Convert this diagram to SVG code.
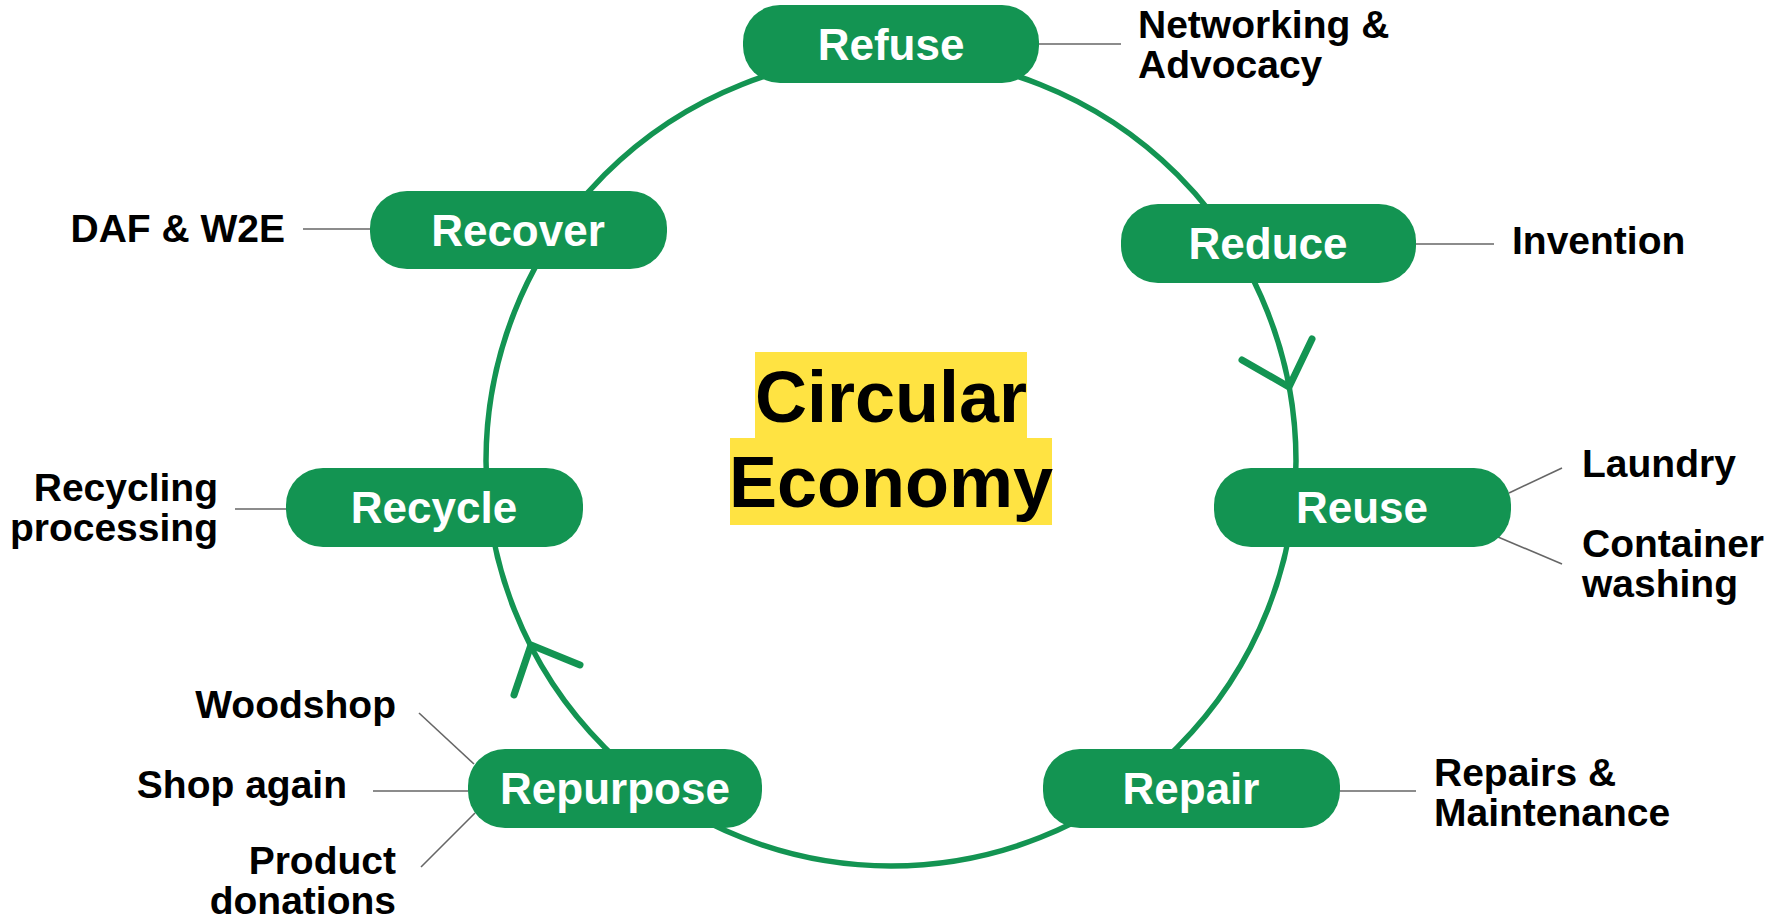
<svg xmlns="http://www.w3.org/2000/svg" width="1787" height="920" viewBox="0 0 1787 920">
<style>
.pill{fill:#139452}
.pt{font-family:"Liberation Sans",Arial,sans-serif;font-weight:bold;font-size:44px;fill:#fff;text-anchor:middle}
.lb{font-family:"Liberation Sans",Arial,sans-serif;font-weight:bold;font-size:39px;fill:#000}
.end{text-anchor:end}
.lead{stroke:#666;stroke-width:1.6;fill:none}
.ring{stroke:#139452;stroke-width:5.5;fill:none}
.arr{stroke:#139452;stroke-width:7;fill:none;stroke-linecap:round;stroke-linejoin:round}
.title{font-family:"Liberation Sans",Arial,sans-serif;font-weight:bold;font-size:72px;fill:#000;text-anchor:middle}
</style>
<rect width="1787" height="920" fill="#fff"/>
<g id="title">
<rect x="755" y="352" width="272" height="87" fill="#FFE342"/>
<rect x="730" y="438" width="322" height="87" fill="#FFE342"/>
<text class="title" x="891" y="422">Circular</text>
<text class="title" x="891" y="507">Economy</text>
</g>
<g id="connectors">
<circle class="ring" cx="891" cy="461" r="405"/>
<polyline class="arr" points="1242,360 1289,387 1312,339"/>
<polyline class="arr" points="514,695 531,645 580,665"/>
<line class="lead" x1="1039" y1="44" x2="1121" y2="44"/>
<line class="lead" x1="1416" y1="244" x2="1494" y2="244"/>
<line class="lead" x1="1509" y1="493" x2="1562" y2="468"/>
<line class="lead" x1="1498" y1="537" x2="1562" y2="564"/>
<line class="lead" x1="1340" y1="791" x2="1416" y2="791"/>
<line class="lead" x1="419" y1="713" x2="474" y2="764"/>
<line class="lead" x1="373" y1="791" x2="468" y2="791"/>
<line class="lead" x1="421" y1="867" x2="475" y2="813"/>
<line class="lead" x1="235" y1="509" x2="286" y2="509"/>
<line class="lead" x1="303" y1="229" x2="370" y2="229"/>
</g>
<g id="refuse">
<rect class="pill" x="743" y="5" width="296" height="78" rx="37"/>
<text class="pt" x="891" y="60">Refuse</text>
<text class="lb" x="1138" y="38">Networking &amp;</text>
<text class="lb" x="1138" y="78">Advocacy</text>
</g>
<g id="reduce">
<rect class="pill" x="1121" y="204" width="295" height="79" rx="37"/>
<text class="pt" x="1268" y="259">Reduce</text>
<text class="lb" x="1512" y="254">Invention</text>
</g>
<g id="reuse">
<rect class="pill" x="1214" y="468" width="297" height="79" rx="37"/>
<text class="pt" x="1362" y="523">Reuse</text>
<text class="lb" x="1582" y="477">Laundry</text>
<text class="lb" x="1582" y="557">Container</text>
<text class="lb" x="1582" y="597">washing</text>
</g>
<g id="repair">
<rect class="pill" x="1043" y="749" width="297" height="79" rx="37"/>
<text class="pt" x="1191" y="804">Repair</text>
<text class="lb" x="1434" y="786">Repairs &amp;</text>
<text class="lb" x="1434" y="826">Maintenance</text>
</g>
<g id="repurpose">
<rect class="pill" x="468" y="749" width="294" height="79" rx="37"/>
<text class="pt" x="615" y="804">Repurpose</text>
<text class="lb end" x="396" y="718">Woodshop</text>
<text class="lb end" x="347" y="798">Shop again</text>
<text class="lb end" x="396" y="874">Product</text>
<text class="lb end" x="396" y="914">donations</text>
</g>
<g id="recycle">
<rect class="pill" x="286" y="468" width="297" height="79" rx="37"/>
<text class="pt" x="434" y="523">Recycle</text>
<text class="lb end" x="218" y="501">Recycling</text>
<text class="lb end" x="218" y="541">processing</text>
</g>
<g id="recover">
<rect class="pill" x="370" y="191" width="297" height="78" rx="37"/>
<text class="pt" x="518" y="246">Recover</text>
<text class="lb end" x="285" y="242">DAF &amp; W2E</text>
</g>
</svg>
